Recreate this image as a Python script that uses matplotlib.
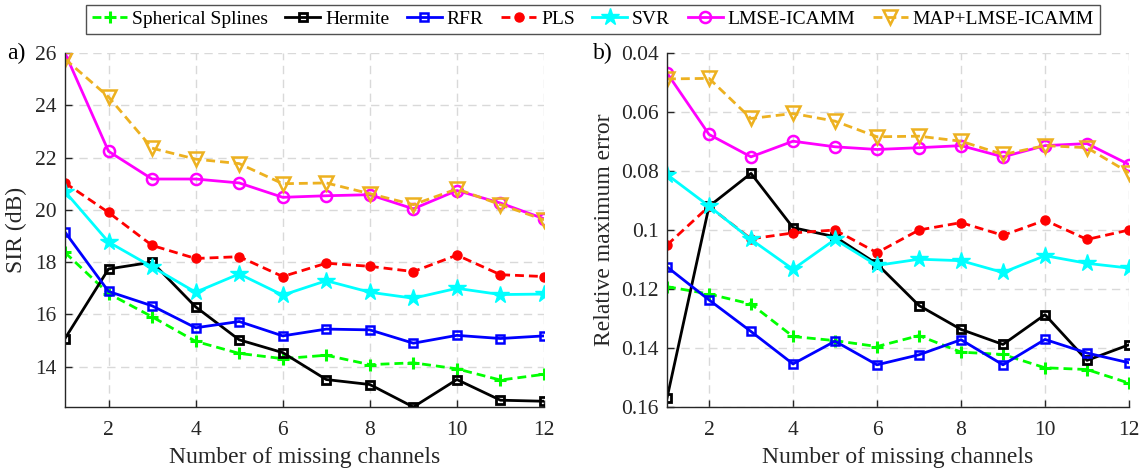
import matplotlib
matplotlib.use("Agg")
import matplotlib.pyplot as plt
from matplotlib.ticker import FuncFormatter

plt.rcParams['font.family'] = ['Liberation Serif', 'DejaVu Serif']

channels = list(range(1, 13))
method_names = ["Spherical Splines", "Hermite", "RFR", "PLS", "SVR", "LMSE-ICAMM", "MAP+LMSE-ICAMM"]

sir_spherical = [18.37, 16.8, 15.91, 14.97, 14.51, 14.31, 14.44, 14.08, 14.15, 13.92, 13.49, 13.71]
sir_hermite = [15.08, 17.74, 18.0, 16.29, 15.03, 14.54, 13.51, 13.32, 12.46, 13.51, 12.72, 12.68]
sir_rfr = [19.15, 16.88, 16.33, 15.49, 15.73, 15.18, 15.44, 15.41, 14.9, 15.2, 15.08, 15.18]
sir_pls = [21.03, 19.9, 18.64, 18.14, 18.21, 17.45, 17.96, 17.84, 17.64, 18.27, 17.52, 17.45]
sir_svr = [20.7, 18.77, 17.82, 16.85, 17.55, 16.74, 17.29, 16.85, 16.62, 17.0, 16.76, 16.78]
sir_lmse = [26.0, 22.24, 21.18, 21.18, 21.03, 20.48, 20.54, 20.58, 20.04, 20.74, 20.26, 19.66]
sir_map = [25.77, 24.32, 22.36, 21.94, 21.77, 21.0, 21.03, 20.62, 20.2, 20.8, 20.2, 19.62]

rme_spherical = [0.1192, 0.1217, 0.1251, 0.1361, 0.1375, 0.1395, 0.1358, 0.1414, 0.1422, 0.1467, 0.1473, 0.1519]
rme_hermite = [0.157, 0.092, 0.0808, 0.0992, 0.1023, 0.1115, 0.1256, 0.1337, 0.1388, 0.1287, 0.1442, 0.1389]
rme_rfr = [0.1125, 0.1237, 0.1344, 0.1454, 0.1377, 0.1457, 0.1423, 0.1372, 0.1457, 0.1371, 0.1417, 0.145]
rme_pls = [0.1051, 0.092, 0.103, 0.101, 0.1, 0.1077, 0.1, 0.0975, 0.1018, 0.0967, 0.1032, 0.1]
rme_svr = [0.0812, 0.0919, 0.1032, 0.1133, 0.1032, 0.112, 0.1099, 0.1104, 0.1144, 0.1087, 0.1113, 0.1129]
rme_lmse = [0.0468, 0.0676, 0.0752, 0.0699, 0.0718, 0.0727, 0.0721, 0.0714, 0.0752, 0.0714, 0.0707, 0.0778]
rme_map = [0.0488, 0.0486, 0.0622, 0.0605, 0.0631, 0.0684, 0.0682, 0.0699, 0.0744, 0.0714, 0.0721, 0.0806]

sir_series = [sir_spherical, sir_hermite, sir_rfr, sir_pls, sir_svr, sir_lmse, sir_map]
rme_series = [rme_spherical, rme_hermite, rme_rfr, rme_pls, rme_svr, rme_lmse, rme_map]

dash = (0, (3.2, 1.8))
styles = [
    dict(color='#00FF00', ls=dash, lw=2.0, marker='+', ms=9, mew=2.2),
    dict(color='black', ls='-', lw=2.0, marker='s', ms=6, mfc='none', mew=2.0),
    dict(color='#0000FF', ls='-', lw=2.0, marker='s', ms=6.3, mfc='none', mew=1.8),
    dict(color='#FF0000', ls=dash, lw=2.0, marker='o', ms=6.5, mfc='#FF0000'),
    dict(color='#00FFFF', ls='-', lw=2.0, marker='*', ms=13),
    dict(color='#FF00FF', ls='-', lw=2.0, marker='o', ms=8, mfc='none', mew=1.8),
    dict(color='#EDB120', ls=dash, lw=2.0, marker='v', ms=9.5, mfc='none', mew=1.8),
]

axcol = '#262626'
fig = plt.figure(figsize=(11.48, 4.73), dpi=100)
ax1 = fig.add_axes([65/1148, 66/473, 479/1148, 354/473])
ax2 = fig.add_axes([667/1148, 66/473, 462/1148, 354/473])

handles = []
for s, st in zip(sir_series, styles):
    h, = ax1.plot(channels, s, **st)
    handles.append(h)
for s, st in zip(rme_series, styles):
    ax2.plot(channels, s, **st)

def style_axes(ax):
    for sp in ['top', 'right']:
        ax.spines[sp].set_visible(False)
    for sp in ['left', 'bottom']:
        ax.spines[sp].set_color(axcol)
        ax.spines[sp].set_linewidth(1.0)
    ax.tick_params(direction='in', length=5, width=1.0, colors=axcol, labelsize=15.5)
    ax.tick_params(axis='x', pad=10)
    ax.tick_params(axis='y', pad=6)
    ax.grid(True, ls=(0, (6, 4)), color='#d9d9d9', lw=1.0)
    ax.set_axisbelow(True)
    ax.set_xlim(1, 12)
    ax.set_xticks([2, 4, 6, 8, 10, 12])
    ax.set_xlabel('Number of missing channels', fontsize=17, color=axcol, labelpad=5)

style_axes(ax1)
style_axes(ax2)

allsir = [v for s in sir_series for v in s]
ax1.set_ylim(min(allsir), max(allsir))
ax1.set_yticks([14, 16, 18, 20, 22, 24, 26])
ax1.set_ylabel('SIR (dB)', fontsize=17, color=axcol, labelpad=6)

ax2.set_ylim(0.16, 0.04)
ax2.set_yticks([0.04, 0.06, 0.08, 0.1, 0.12, 0.14, 0.16])
ax2.yaxis.set_major_formatter(FuncFormatter(lambda v, p: f"{v:g}"))
ax2.set_ylabel('Relative maximum error', fontsize=17, color=axcol, labelpad=4)

fig.text(7/1148, 1 - 53/473, 'a)', fontsize=17, va='center', ha='left', color='black')
fig.text(593/1148, 1 - 53/473, 'b)', fontsize=17, va='center', ha='left', color='black')

leg = fig.legend(handles, method_names, loc='center', bbox_to_anchor=(593/1148, 1 - 19.5/473),
                 ncol=7, fontsize=14, frameon=True, fancybox=False, edgecolor='#262626',
                 handlelength=1.8, handletextpad=0.25, columnspacing=0.9, borderpad=0.3,
                 borderaxespad=0)
leg.get_frame().set_linewidth(1.0)

fig.savefig('out.png', dpi=100)
